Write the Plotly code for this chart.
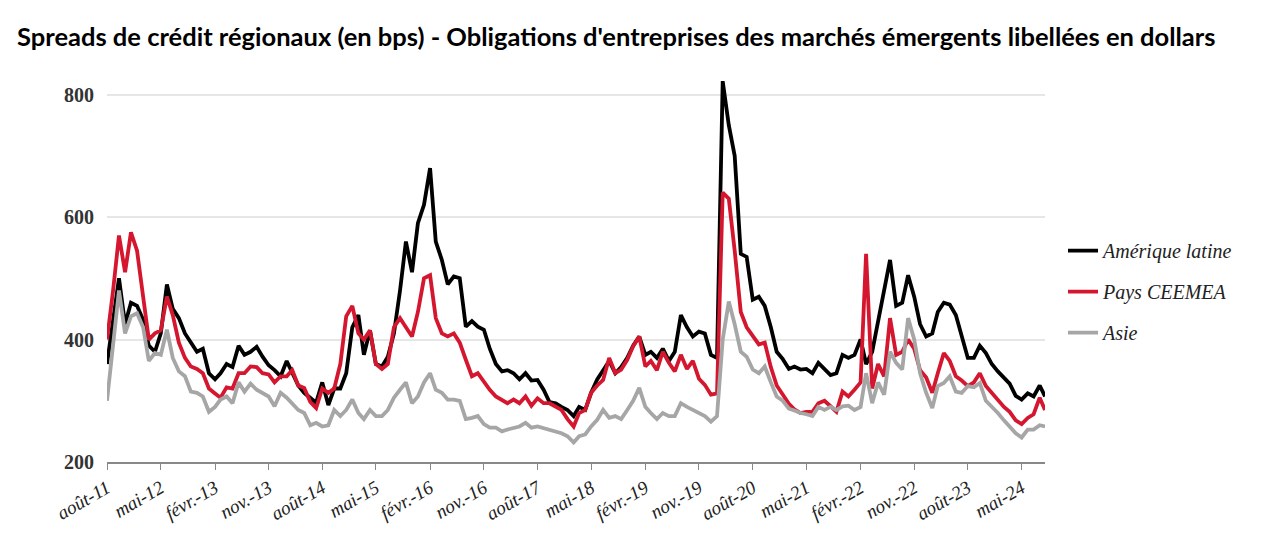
import pandas as pd
import plotly.graph_objects as go

# monthly readings, Aug 2011 -> Aug 2024, plus a last point at end of Aug 2024
dates = list(pd.date_range("2011-08-01", "2024-08-01", freq="MS")) + [pd.Timestamp("2024-08-28")]

latam = [
    360, 430, 500, 425, 460, 455, 432, 390, 380, 410, 490, 450, 435, 410, 395, 380, 385, 345, 335, 345,
    360, 355, 390, 375, 380, 388, 372, 358, 350, 340, 365, 345, 325, 313, 305, 297, 330, 293, 320, 320,
    345, 420, 440, 375, 415, 360, 356, 372, 410, 480, 560, 510, 590, 620, 680, 560, 530, 490, 503, 500,
    421, 430, 421, 416, 385, 360, 348, 350, 345, 335, 345, 333, 334, 318, 298, 296, 290, 285, 275, 290,
    285, 313, 335, 350, 365, 345, 355, 370, 390, 405, 375, 380, 370, 385, 365, 380, 440, 420, 405, 413,
    410, 375, 370, 822, 750, 700, 540, 535, 465, 470, 455, 420, 380, 368, 352, 356, 351, 352, 345, 362,
    352, 342, 345, 375, 370, 375, 400, 360, 380, 430, 480, 530, 455, 460, 505, 470, 425, 405, 410, 445,
    460, 457, 440, 405, 370, 370, 390, 378, 360, 348, 338, 328, 308, 302, 312, 307, 325, 307,
]

ceemea = [
    400, 480, 570, 510, 575, 545, 470, 400, 410, 415, 470, 440, 395, 370, 356, 352, 345, 320, 312, 305,
    322, 320, 345, 345, 356, 355, 345, 343, 330, 340, 340, 350, 325, 321, 298, 288, 320, 313, 320, 360,
    438, 455, 410, 400, 415, 360, 352, 360, 420, 435, 420, 405, 445, 500, 505, 435, 410, 405, 410, 395,
    367, 340, 345, 330, 318, 307, 302, 296, 302, 296, 307, 292, 304, 296, 296, 291, 285, 270, 258, 280,
    285, 313, 325, 334, 370, 345, 351, 367, 389, 405, 356, 365, 350, 380, 362, 348, 375, 352, 365, 336,
    326, 310, 312, 640, 630, 545, 445, 420, 405, 392, 395, 355, 325, 310, 295, 286, 280, 282, 282, 296,
    300, 291, 282, 315, 307, 318, 330, 540, 320, 360, 340, 435, 375, 380, 400, 385, 350, 338, 313, 345,
    378, 365, 340, 333, 324, 330, 345, 324, 313, 302, 290, 282, 268, 262, 272, 278, 305, 285,
]

asia = [
    300, 385, 480, 410, 438, 443, 420, 365, 378, 375, 416, 370, 348, 340, 315, 313, 307, 282, 290, 302,
    307, 296, 330, 315, 328, 318, 313, 307, 291, 313, 305, 295, 285, 280, 260, 264, 258, 260, 285, 275,
    285, 302, 280, 270, 285, 275, 275, 285, 305, 318, 330, 296, 307, 330, 345, 318, 313, 302, 302, 300,
    270, 272, 275, 262, 256, 256, 250, 253, 256, 258, 264, 256, 258, 255, 252, 250, 247, 242, 232, 242,
    245, 258, 269, 285, 272, 275, 270, 285, 300, 321, 290, 280, 270, 280, 275, 275, 296, 290, 285, 280,
    275, 266, 275, 400, 462, 425, 380, 372, 351, 345, 356, 330, 307, 300, 287, 284, 280, 278, 275, 290,
    285, 290, 285, 291, 292, 285, 290, 345, 296, 330, 310, 380, 362, 351, 435, 400, 345, 313, 288, 324,
    329, 340, 315, 313, 324, 322, 329, 300, 291, 280, 268, 258, 247, 240, 253, 253, 260, 258,
]

series_names = ["Amérique latine", "Pays CEEMEA", "Asie"]
series_colors = ["#000000", "#d4172f", "#a6a6a6"]

tick_dates = [
    "2011-08-01", "2012-05-01", "2013-02-01", "2013-11-01", "2014-08-01", "2015-05-01",
    "2016-02-01", "2016-11-01", "2017-08-01", "2018-05-01", "2019-02-01", "2019-11-01",
    "2020-08-01", "2021-05-01", "2022-02-01", "2022-11-01", "2023-08-01", "2024-05-01",
]
tick_labels = [
    "août-11", "mai-12", "févr.-13", "nov.-13", "août-14", "mai-15", "févr.-16", "nov.-16",
    "août-17", "mai-18", "févr.-19", "nov.-19", "août-20", "mai-21", "févr.-22", "nov.-22",
    "août-23", "mai-24",
]

serif = "Times New Roman, Liberation Serif, serif"

fig = go.Figure()
for i, (name, vals, col) in enumerate(zip(series_names, [latam, ceemea, asia], series_colors)):
    fig.add_trace(go.Scatter(
        x=dates, y=vals, name="<i>" + name + "</i>", mode="lines",
        line=dict(color=col, width=3.8),
        legendgroup=str(i),
    ))

# page body adds an 8px margin, so the figure is sized and placed to compensate
fig.update_layout(
    width=1259, height=536,
    margin=dict(l=99, r=222, t=56, b=82),
    paper_bgcolor="white", plot_bgcolor="white",
    font=dict(family=serif),
    title=dict(
        text="<b>Spreads de crédit régionaux (en bps) - Obligations d'entreprises des marchés émergents libellées en dollars</b>",
        font=dict(family="Lato", size=25.5, color="#000"),
        xref="container", x=0.0072, xanchor="left",
        yref="container", y=0.945, yanchor="middle",
    ),
    legend=dict(
        x=1.0192, xanchor="left", y=0.58, yanchor="top",
        font=dict(family=serif, size=20, color="#222"),
        tracegroupgap=12,
        bgcolor="rgba(0,0,0,0)",
    ),
)

fig.update_xaxes(
    type="date",
    range=["2011-08-01", "2024-08-28"],
    tickvals=tick_dates, ticktext=["<i>" + t + "</i>" for t in tick_labels],
    tickangle=-30,
    tickfont=dict(family=serif, size=19, color="#222"),
    ticks="outside", ticklen=6, tickcolor="#888", tickwidth=1,
    showline=True, linecolor="#888", linewidth=1.5,
    showgrid=False, zeroline=False,
)
fig.update_yaxes(
    range=[200, 850],
    tickvals=[200, 400, 600, 800],
    ticktext=["<b>200</b>", "<b>400</b>", "<b>600</b>", "<b>800</b>"],
    tickfont=dict(family=serif, size=20, color="#333"),
    showgrid=True, gridcolor="#e6e6e6", gridwidth=1.5,
    showline=False, zeroline=False, ticks="",
    ticklabelstandoff=12,
)

fig.write_html("out.html")
